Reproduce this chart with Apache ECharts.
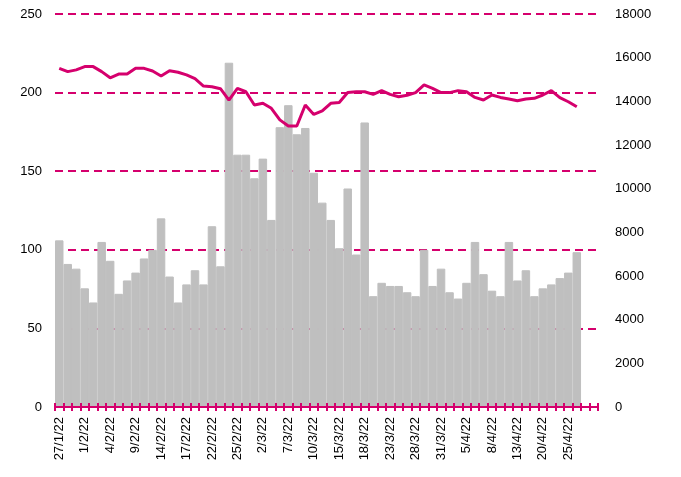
<!DOCTYPE html>
<html lang="en">
<head>
	<meta charset="UTF-8">
	<title>chart</title>
	<script type="text/javascript" src="https://cdn.jsdelivr.net/npm/echarts@6/dist/echarts.min.js"></script>
	<style type="text/css">
	html, body{margin: 0; padding: 0; background: #fff;}
	#container{width: 681px; height: 477px;}
	</style>
</head>
<body>
	<div id="container"></div>
	<script type="text/javascript">
		// 日期（工作日），最后两个空类目
		var dates = ['27/1/22','28/1/22','31/1/22','1/2/22','2/2/22','3/2/22','4/2/22','7/2/22','8/2/22','9/2/22',
			'10/2/22','11/2/22','14/2/22','15/2/22','16/2/22','17/2/22','18/2/22','21/2/22','22/2/22','23/2/22',
			'24/2/22','25/2/22','28/2/22','1/3/22','2/3/22','3/3/22','4/3/22','7/3/22','8/3/22','9/3/22',
			'10/3/22','11/3/22','14/3/22','15/3/22','16/3/22','17/3/22','18/3/22','21/3/22','22/3/22','23/3/22',
			'24/3/22','25/3/22','28/3/22','29/3/22','30/3/22','31/3/22','1/4/22','4/4/22','5/4/22','6/4/22',
			'7/4/22','8/4/22','11/4/22','12/4/22','13/4/22','14/4/22','19/4/22','20/4/22','21/4/22','22/4/22',
			'25/4/22','26/4/22','',''];

		// 柱（左轴）
		var barValues = [106,91,88,75.5,66.5,105,93,72,80.5,85.5,
			94.5,100,120,83,66.5,78,87,78,115,89.5,
			219,160.5,160.5,145.5,158,119,178,192,173.5,177.5,
			149,130,119,101,139,97,181,70.5,79,77,
			77,73,70.5,100,77,88,73,69,79,105,
			84.5,74,70.5,105,80.5,87,70.5,75.5,78,82,
			85.5,98.5];

		// 线（右轴）
		var lineValues = [15510,15360,15440,15590,15590,15360,15080,15250,15250,15510,
			15510,15390,15160,15400,15330,15210,15040,14700,14670,14580,
			14060,14590,14440,13830,13910,13680,13150,12870,12870,13830,
			13400,13560,13910,13950,14400,14440,14440,14320,14490,14320,
			14210,14280,14400,14750,14590,14400,14400,14490,14440,14180,
			14060,14290,14180,14110,14030,14110,14140,14290,14490,14170,
			13980,13750];

		var leftTicks = {min: 0, max: 250, interval: 50};
		var rightTicks = {min: 0, max: 18000, interval: 2000};

		var pink = '#D5006D';
		var font = 'Liberation Sans, Arial, sans-serif';

		var dom = document.getElementById("container");
		var myChart = echarts.init(dom);
		var option = {
			animation: false,
			grid: {
				left: 55,
				right: 83,
				top: 14,
				bottom: 70
			},
			xAxis: [
				{
					type: 'category',
					data: dates,
					position: 'bottom',
					boundaryGap: true,
					z: 10,
					axisLine: {lineStyle: {color: pink, width: 2}},
					axisTick: {show: true, interval: 0, length: 4, lineStyle: {color: pink, width: 2}},
					axisLabel: {
						interval: 2,
						rotate: 90,
						margin: 10,
						color: '#000',
						fontSize: 13,
						fontFamily: font
					},
					splitLine: {show: false}
				},
				{
					type: 'category',
					data: dates,
					position: 'bottom',
					boundaryGap: true,
					z: 10,
					axisLine: {show: false},
					axisTick: {show: true, inside: true, interval: 0, length: 4, lineStyle: {color: pink, width: 2}},
					axisLabel: {show: false},
					splitLine: {show: false}
				}
			],
			yAxis: [
				{
					type: 'value',
					min: leftTicks.min,
					max: leftTicks.max,
					interval: leftTicks.interval,
					axisLine: {show: false},
					axisTick: {show: false},
					axisLabel: {margin: 13, color: '#000', fontSize: 13, fontFamily: font},
					splitLine: {show: true, lineStyle: {color: pink, width: 2, type: [8, 5]}}
				},
				{
					type: 'value',
					min: rightTicks.min,
					max: rightTicks.max,
					interval: rightTicks.interval,
					axisLine: {show: false},
					axisTick: {show: false},
					axisLabel: {
						margin: 17, color: '#000', fontSize: 13, fontFamily: font,
						formatter: function (v) { return String(v); }
					},
					splitLine: {show: false}
				}
			],
			series: [
				{
					type: 'bar',
					xAxisIndex: 0,
					yAxisIndex: 0,
					data: barValues,
					barCategoryGap: '0%',
					itemStyle: {color: '#BFBFBF', borderColor: '#BFBFBF', borderWidth: 1}
				},
				{
					type: 'line',
					xAxisIndex: 0,
					yAxisIndex: 1,
					data: lineValues,
					symbol: 'none',
					z: 5,
					lineStyle: {color: pink, width: 3}
				}
			]
		};
		myChart.setOption(option, true);
	</script>
</body>
</html>
